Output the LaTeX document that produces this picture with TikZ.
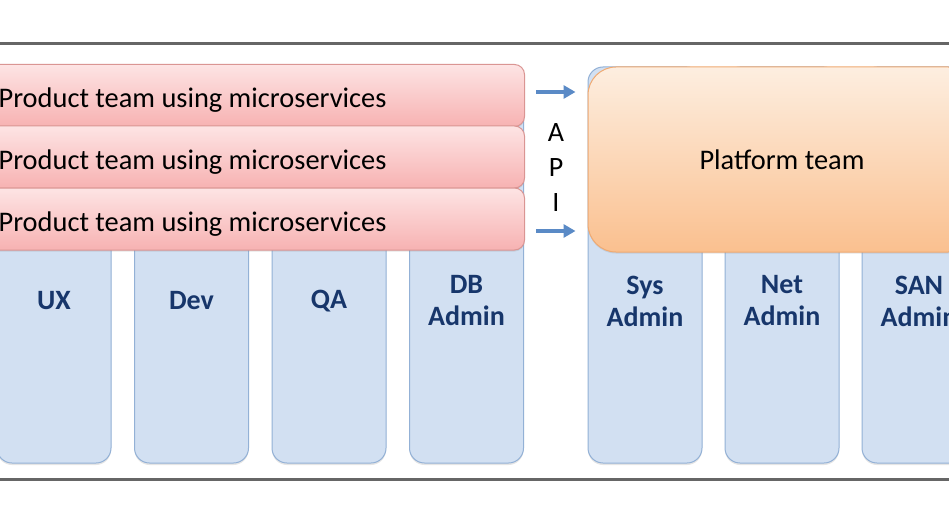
\documentclass[tikz,border=0pt]{standalone}
\usepackage{fontspec}
\setmainfont{Carlito}
\usetikzlibrary{arrows.meta,shadows}

\definecolor{bartop}{HTML}{FDE4E4}
\definecolor{barbot}{HTML}{F7B2B2}
\definecolor{barline}{HTML}{DA9593}
\definecolor{plattop}{HTML}{FDEEE0}
\definecolor{platbot}{HTML}{FAC08F}
\definecolor{platline}{HTML}{F0AA72}
\definecolor{colfill}{HTML}{D2E0F2}
\definecolor{colline}{HTML}{93B1D6}
\definecolor{coltext}{HTML}{17366B}
\definecolor{arrowblue}{HTML}{5A8AC6}
\definecolor{rulegray}{HTML}{666666}

\begin{document}
\begin{tikzpicture}[x=1pt,y=-1pt,
    teambar/.style={rectangle,rounded corners=10pt,draw=barline,line width=1pt,
      top color=bartop,bottom color=barbot,minimum width=664pt,minimum height=62pt,
      font=\fontsize{28.4}{34}\selectfont,text=black,text height=30pt,text depth=6pt,
      drop shadow={shadow xshift=0pt,shadow yshift=-1.5pt,opacity=0.2}},
    platbox/.style={rectangle,rounded corners=28pt,draw=platline,line width=1pt,
      top color=plattop,bottom color=platbot,minimum width=388pt,minimum height=185pt,
      font=\fontsize{28.4}{34}\selectfont,text=black,
      drop shadow={shadow xshift=0pt,shadow yshift=-1.5pt,opacity=0.2}},
    column/.style={rectangle,rounded corners=15pt,draw=colline,line width=1pt,
      fill=colfill,minimum width=114pt,minimum height=396pt,
      drop shadow={shadow xshift=0pt,shadow yshift=-2pt,opacity=0.2}},
    collabel/.style={font=\fontsize{28}{32}\selectfont\bfseries,text=coltext,align=center},
    apilabel/.style={font=\fontsize{28}{35}\selectfont,align=center},
    apiarrow/.style={-{Triangle[length=12pt,width=13pt]},line width=4pt,draw=arrowblue,shorten >=12pt},
    rule/.style={line width=3pt,draw=rulegray}]

  % Rahmen
  \clip (0,0) rectangle (949,505);
  \fill[white] (0,0) rectangle (949,505);

  % Linien oben und unten
  \draw[rule] (0,44) -- (949,44);
  \draw[rule] (0,479) -- (949,479);

  % Fachbereiche als Spalten
  \foreach \x/\name/\txt in {54/ux/UX, 191.5/dev/Dev, 329/qa/QA, 466.5/db/{DB\\Admin},
      645/sys/{Sys\\Admin}, 782/net/{Net\\Admin}, 919/san/{SAN\\Admin}} {
    \node[column] (\name) at (\x,265) {};
    \node[collabel] (\name-label) at (\x,301) {\txt};
  }

  % Produktteams
  \node[teambar] (bar1) at (192.5,95.5) {Product team using microservices};
  \node[teambar] (bar2) at (192.5,157) {Product team using microservices};
  \node[teambar] (bar3) at (192.5,219) {Product team using microservices};

  % Plattformteam
  \node[platbox] (plat) at (782,159.5) {Platform team};

  % API
  \node[apilabel] (api) at (556,168) {A\\P\\I};
  \coordinate (api1) at (536,92);
  \coordinate (api2) at (536,231);
  \draw[apiarrow] (api1) -- (api1 -| plat.west);
  \draw[apiarrow] (api2) -- (api2 -| plat.west);
\end{tikzpicture}
\end{document}
